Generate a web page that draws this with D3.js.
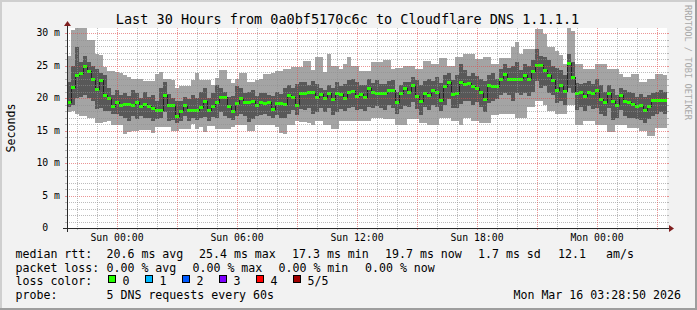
<!DOCTYPE html>
<html><head><meta charset="utf-8">
<script src="https://cdn.jsdelivr.net/npm/d3@7"></script>
<style>
html,body{margin:0;padding:0;background:#f2f2f2;}
svg{display:block;}
text{font-family:"DejaVu Sans Mono",monospace;}
</style></head><body>
<svg id="chart" width="697" height="310"></svg>
<script>
// ---- data (ms), one entry per 12-minute bin, 150 bins over 30 hours ----
const medRtt = [
19.4,21.7,23.5,23.9,25.0,24.1,23.0,21.4,22.8,20.4,
20.0,18.8,19.4,18.9,19.1,19.1,18.9,19.4,18.7,19.1,
18.8,18.4,18.2,18.2,20.4,18.9,18.9,17.3,18.0,18.9,
18.1,18.2,18.2,18.6,19.6,18.2,18.8,19.4,20.1,20.1,
18.7,18.0,19.2,20.0,19.4,19.4,19.6,18.9,19.4,19.2,
19.4,18.3,19.3,19.2,19.1,20.5,20.2,19.0,20.8,20.7,
20.9,20.9,20.1,20.6,20.0,20.7,19.8,20.7,20.6,20.0,
20.9,21.1,20.3,20.6,20.2,21.5,20.9,20.7,20.7,20.7,
21.2,21.2,19.4,20.7,21.5,21.0,22.0,20.3,19.5,20.8,
20.5,21.3,21.0,19.7,21.8,22.5,20.6,20.7,22.5,22.1,
22.3,21.8,21.5,21.0,19.9,22.0,21.8,21.8,23.0,23.7,
23.0,23.0,23.0,23.0,23.5,23.0,24.1,25.1,25.1,24.3,
23.5,22.7,21.3,22.0,21.1,25.4,23.2,20.7,20.9,20.3,
21.0,20.7,21.3,19.9,19.4,20.8,19.6,19.0,20.5,19.5,
19.4,19.1,18.8,19.0,18.2,18.8,19.7,19.7,19.7,19.7];
const pingMax = [
26.5,30.5,30.8,30.8,30.8,29.0,29.0,26.7,26.6,24.7,
24.2,24.2,24.0,23.8,23.5,23.2,23.0,22.9,22.9,22.6,
22.6,22.6,23.7,24.0,23.0,22.9,22.8,21.6,21.8,21.8,
21.8,22.7,23.8,22.7,22.7,22.7,22.0,23.1,24.3,24.3,
23.0,22.3,23.0,23.8,23.8,22.4,22.4,22.7,22.9,23.7,
23.7,23.9,24.1,24.1,24.4,24.4,24.7,24.7,24.7,25.7,
25.7,24.3,26.3,26.3,24.0,26.7,25.0,25.0,24.4,25.2,
26.3,25.0,25.0,24.2,24.2,24.2,25.6,25.6,25.6,25.8,
25.8,24.4,24.6,24.6,25.0,25.0,25.0,24.4,24.4,25.7,
25.7,25.2,25.2,26.1,26.1,25.0,25.0,26.3,26.3,26.8,
26.8,26.8,26.0,26.0,26.3,26.3,25.2,25.2,26.1,26.1,
26.1,27.8,28.6,26.8,27.5,27.5,27.5,30.6,30.6,29.8,
27.8,27.8,27.3,26.6,25.2,30.8,30.3,25.2,25.2,24.4,
24.4,24.4,25.2,25.2,25.2,24.4,24.4,24.4,23.7,23.2,
23.2,23.7,23.7,22.4,22.4,22.9,22.9,23.7,23.7,23.5];
const pingHigh = [
22.5,25.0,27.8,25.5,26.5,25.5,25.0,24.5,23.8,23.5,
21.5,20.5,21.3,20.5,20.8,20.3,21.2,20.7,20.0,21.0,
20.2,20.4,19.6,21.6,22.4,20.6,20.0,19.6,19.5,20.1,
19.9,20.4,20.0,21.0,21.6,20.0,20.7,22.0,21.5,21.0,
20.2,20.3,21.8,21.5,20.8,21.0,21.2,20.3,20.8,20.8,
20.5,20.3,21.0,20.6,21.5,22.0,21.6,22.1,22.5,22.4,
22.0,22.6,22.1,21.6,21.2,22.0,21.6,22.4,21.9,22.1,
22.8,23.0,22.5,22.0,22.0,23.0,22.3,22.8,22.1,22.2,
22.6,22.8,21.0,22.0,22.5,22.4,23.2,22.8,22.0,22.6,
23.0,22.6,23.2,22.3,23.5,23.9,22.8,23.5,25.2,24.3,
23.4,23.9,23.4,23.0,22.6,23.6,23.9,23.0,24.4,25.2,
24.6,24.9,25.6,24.3,25.2,25.0,25.8,27.5,26.5,26.3,
25.8,25.0,24.6,24.3,23.6,26.8,25.6,22.3,22.1,22.3,
22.6,22.1,23.0,22.0,21.0,22.0,21.4,20.4,21.5,21.3,
21.0,20.8,20.2,20.6,20.2,20.4,20.8,21.0,21.2,21.0];
const pingLow = [
18.6,19.0,20.0,20.2,20.4,20.0,19.5,18.3,18.5,18.0,
18.0,17.5,17.6,17.2,17.0,16.5,17.2,16.8,17.2,17.0,
16.9,16.5,16.7,17.0,17.8,16.4,16.6,16.2,16.5,17.3,
16.4,16.9,16.6,17.0,17.1,16.4,17.1,16.9,17.9,17.3,
17.0,16.6,17.3,17.5,17.2,16.3,16.8,17.2,17.4,17.5,
17.3,17.0,17.4,17.0,16.9,17.6,18.1,17.4,18.3,18.2,
18.4,17.5,17.8,18.5,17.9,18.4,17.4,17.8,18.3,18.0,
18.4,18.6,18.2,18.3,18.0,18.6,18.4,18.8,18.5,18.1,
19.0,18.5,17.6,18.3,18.7,18.6,19.4,18.3,17.4,18.6,
18.2,18.9,18.6,18.0,19.0,19.8,18.5,18.4,19.1,19.6,
19.5,19.0,19.4,18.6,17.9,19.3,19.6,19.8,20.5,20.8,
20.4,19.6,20.7,20.5,20.8,20.3,21.0,22.6,21.6,21.8,
20.8,20.5,19.3,19.6,19.0,21.6,20.8,18.2,18.6,18.0,
18.8,18.3,18.4,17.6,17.3,18.4,16.6,16.9,18.2,17.3,
17.0,17.0,16.8,16.6,16.2,16.8,17.3,17.6,17.8,17.6];
const pingMin = [
17.9,18.0,17.5,17.3,17.3,17.0,17.0,16.2,16.2,16.3,
16.4,15.9,15.9,15.9,14.5,14.8,15.0,15.0,15.1,15.1,
15.1,14.6,15.6,15.6,15.6,15.6,15.0,15.0,15.3,15.3,
15.3,16.0,15.3,15.5,14.8,15.7,15.7,15.3,15.3,15.2,
15.2,15.5,15.9,15.9,15.9,15.0,15.0,15.9,15.9,15.9,
15.9,15.9,15.5,14.6,14.4,15.9,15.9,16.5,16.3,16.3,
16.1,15.9,16.4,16.4,15.9,15.9,15.3,15.3,16.4,16.4,
16.4,16.4,16.4,16.4,16.4,16.4,16.9,16.9,16.9,16.7,
16.7,16.7,15.9,15.9,15.9,16.8,16.8,16.8,16.1,16.1,
15.9,15.9,15.9,16.9,16.9,16.9,16.4,16.4,15.9,16.9,
16.9,16.4,16.4,16.1,16.1,16.1,17.4,17.4,17.6,17.6,
17.6,17.6,16.9,16.9,16.9,18.6,18.6,19.5,19.5,19.0,
18.0,18.0,17.6,17.6,17.6,19.0,19.0,15.9,15.9,16.4,
16.4,16.4,15.9,15.9,15.9,14.8,14.8,15.9,15.9,15.9,
15.4,15.4,15.4,14.9,14.9,14.2,14.2,15.4,15.4,15.4];

const yTickValues = [0,5,10,15,20,25,30];
const yTickLabels = ["0  ","5 m","10 m","15 m","20 m","25 m","30 m"];
const titleText = "Last 30 Hours from 0a0bf5170c6c to Cloudflare DNS 1.1.1.1";
const rttLabel = "median rtt:";
const rttStats = ["20.6 ms avg","25.4 ms max","17.3 ms min","19.7 ms now","1.7 ms sd","12.1","am/s"];
const lossLabel = "packet loss:";
const lossStats = ["0.00 % avg","0.00 % max","0.00 % min","0.00 % now"];
const lossColorLabel = "loss color:";
const lossNames = ["0","1","2","3","4","5/5"];
const lossColors = ["#26ff00","#00b8ff","#0059ff","#7e00ff","#ff0000","#a00000"];
const probeLabel = "probe:";
const probeText = "5 DNS requests every 60s";
const stampText = "Mon Mar 16 03:28:50 2026";

// ---- layout ----
const W = 697, H = 310, L = 67, R = 667, T = 28, B = 228;
const svg = d3.select("#chart");
svg.append("rect").attr("width", W).attr("height", H).attr("fill", "#f2f2f2");
svg.append("rect").attr("x",0).attr("y",0).attr("width",W).attr("height",2).attr("fill","#cfcfcf");
svg.append("rect").attr("x",0).attr("y",0).attr("width",2).attr("height",H).attr("fill","#cfcfcf");
svg.append("rect").attr("x",0).attr("y",H-2).attr("width",W).attr("height",2).attr("fill","#9e9e9e");
svg.append("rect").attr("x",W-2).attr("y",0).attr("width",2).attr("height",H).attr("fill","#9e9e9e");
svg.append("rect").attr("x",L).attr("y",T).attr("width",R-L).attr("height",B-T).attr("fill","#ffffff");

const t0 = Date.UTC(2026,2,14,21,30);
const step = 12*60*1000;
const x = d3.scaleUtc().domain([new Date(t0), new Date(t0 + medRtt.length*step)]).range([L, R]);
const y = d3.scaleLinear().domain([0, 30.77]).range([B, T]);

const bins = medRtt.map((m,i) => ({
  a: new Date(t0 + i*step), b: new Date(t0 + (i+1)*step),
  m, lo1: pingMin[i], lo2: pingLow[i], hi2: pingHigh[i], hi1: Math.min(pingMax[i], 30.77)
}));

const plot = svg.append("g").attr("shape-rendering","crispEdges");
plot.selectAll("rect.s1").data(bins).join("rect").attr("class","s1")
  .attr("x", d => x(d.a)).attr("width", d => x(d.b) - x(d.a))
  .attr("y", d => y(d.hi1)).attr("height", d => y(d.lo1) - y(d.hi1))
  .attr("fill", "#a4a4a4");
plot.selectAll("rect.s2").data(bins).join("rect").attr("class","s2")
  .attr("x", d => x(d.a)).attr("width", d => x(d.b) - x(d.a))
  .attr("y", d => y(d.hi2)).attr("height", d => y(d.lo2) - y(d.hi2))
  .attr("fill", "#585858");

// median step line
const pts = bins.map(d => [x(d.a), Math.round(y(d.m)) + 0.5]);
pts.push([x(bins[bins.length-1].b), Math.round(y(bins[bins.length-1].m)) + 0.5]);
plot.append("path").attr("d", d3.line().curve(d3.curveStepAfter)(pts))
  .attr("fill","none").attr("stroke","#202020").attr("stroke-width",1);
plot.selectAll("rect.med").data(bins).join("rect").attr("class","med")
  .attr("x", d => x(d.a)).attr("width", d => x(d.b) - x(d.a))
  .attr("y", d => Math.round(y(d.m)) - 1).attr("height", 3)
  .attr("fill", lossColors[0]);

// grid on top
const grid = svg.append("g").attr("shape-rendering","crispEdges");
const minorY = d3.range(1, 31).filter(v => v % 5 !== 0);
const majorY = d3.range(5, 31, 5);
const hours = d3.utcHour.every(1).range(x.domain()[0], x.domain()[1]);
const minorX = hours.filter(h => h.getUTCHours() % 3 !== 0);
const majorX = hours.filter(h => h.getUTCHours() % 3 === 0);
const minorCol = "rgba(143,143,143,0.6)", majorCol = "rgba(222,79,79,0.6)";
grid.selectAll("line.my").data(minorY).join("line")
  .attr("x1", L).attr("x2", R).attr("y1", v => Math.round(y(v)) + 0.5).attr("y2", v => Math.round(y(v)) + 0.5)
  .attr("stroke", minorCol).attr("stroke-dasharray","1,1");
grid.selectAll("line.My").data(majorY).join("line")
  .attr("x1", L).attr("x2", R).attr("y1", v => Math.round(y(v)) + 0.5).attr("y2", v => Math.round(y(v)) + 0.5)
  .attr("stroke", majorCol).attr("stroke-dasharray","1,1");
grid.selectAll("line.mx").data(minorX).join("line")
  .attr("y1", T).attr("y2", B).attr("x1", d => Math.round(x(d)) + 0.5).attr("x2", d => Math.round(x(d)) + 0.5)
  .attr("stroke", minorCol).attr("stroke-dasharray","1,1");
grid.selectAll("line.Mx").data(majorX).join("line")
  .attr("y1", T).attr("y2", B).attr("x1", d => Math.round(x(d)) + 0.5).attr("x2", d => Math.round(x(d)) + 0.5)
  .attr("stroke", majorCol).attr("stroke-dasharray","1,1");
// small ticks outside the plot
grid.selectAll("line.ty").data(minorY.concat(majorY)).join("line")
  .attr("x1", L-2).attr("x2", L).attr("y1", v => Math.round(y(v)) + 0.5).attr("y2", v => Math.round(y(v)) + 0.5)
  .attr("stroke", v => v % 5 === 0 ? majorCol : minorCol);
grid.selectAll("line.ty2").data(minorY.concat(majorY)).join("line")
  .attr("x1", R).attr("x2", R+2).attr("y1", v => Math.round(y(v)) + 0.5).attr("y2", v => Math.round(y(v)) + 0.5)
  .attr("stroke", v => v % 5 === 0 ? majorCol : minorCol);
grid.selectAll("line.tx").data(hours).join("line")
  .attr("y1", B).attr("y2", B+2).attr("x1", d => Math.round(x(d)) + 0.5).attr("x2", d => Math.round(x(d)) + 0.5)
  .attr("stroke", d => d.getUTCHours() % 3 === 0 ? majorCol : minorCol);

// axes
const ax = svg.append("g").attr("shape-rendering","crispEdges");
ax.append("line").attr("x1", L-4).attr("x2", R+4).attr("y1", B+0.5).attr("y2", B+0.5).attr("stroke","#2a2a2a");
ax.append("line").attr("x1", L+0.5).attr("x2", L+0.5).attr("y1", B+4).attr("y2", T-4).attr("stroke","#2a2a2a");
svg.append("path").attr("d", `M${R+2},${B-3}L${R+2},${B+4}L${R+7},${B+0.5}Z`).attr("fill","#801f1f");
svg.append("path").attr("d", `M${L-3},${T-2}L${L+4},${T-2}L${L+0.5},${T-7}Z`).attr("fill","#801f1f");

// axis labels
svg.selectAll("text.yl").data(yTickValues).join("text").attr("class","yl")
  .attr("x", 60).attr("y", v => y(v)).attr("dy","0.35em")
  .attr("text-anchor","end").attr("font-size","9.8px").attr("fill","#000").style("white-space","pre")
  .text((v,i) => yTickLabels[i]);
const xLabTimes = d3.utcHour.every(6).range(x.domain()[0], x.domain()[1]);
svg.selectAll("text.xl").data(xLabTimes).join("text").attr("class","xl")
  .attr("x", d => x(d)).attr("y", 241).attr("text-anchor","middle").attr("font-size","9.8px")
  .text(d3.utcFormat("%a %H:%M"));

svg.append("text").attr("x", 347.5).attr("y", 24).attr("text-anchor","middle")
  .attr("font-size","13.5px").text(titleText);
svg.append("text").attr("transform","translate(15,128) rotate(-90)").attr("text-anchor","middle")
  .attr("font-size","11.6px").text("Seconds");
svg.append("text").attr("transform","translate(685,5) rotate(90)").attr("text-anchor","start")
  .attr("font-size","8.7px").attr("fill","#a8a8a8").text("RRDTOOL / TOBI OETIKER");

// legend
const lg = svg.append("g").attr("font-size","11.6px").style("white-space","pre");
const rows = [258, 271.7, 285.3, 299];
lg.append("text").attr("x",15.5).attr("y",rows[0]).text(rttLabel);
const rttX = [106.5,199,292,385,478,558,606];
rttStats.forEach((s,i) => lg.append("text").attr("x",rttX[i]).attr("y",rows[0]).text(s));
lg.append("text").attr("x",15.5).attr("y",rows[1]).text(lossLabel);
const lossX = [106.5,192.5,278.5,365];
lossStats.forEach((s,i) => lg.append("text").attr("x",lossX[i]).attr("y",rows[1]).text(s));
lg.append("text").attr("x",15.5).attr("y",rows[2]).text(lossColorLabel);
lossNames.forEach((s,i) => {
  lg.append("rect").attr("x",108.5 + i*37).attr("y",275.5).attr("width",7).attr("height",7)
    .attr("fill",lossColors[i]).attr("stroke","#000").attr("stroke-width",1).attr("shape-rendering","crispEdges");
  lg.append("text").attr("x",122.5 + i*37).attr("y",rows[2]).text(s);
});
lg.append("text").attr("x",15.5).attr("y",rows[3]).text(probeLabel);
lg.append("text").attr("x",106.5).attr("y",rows[3]).text(probeText);
lg.append("text").attr("x",681).attr("y",rows[3]).attr("text-anchor","end").text(stampText);
</script>
</body></html>
